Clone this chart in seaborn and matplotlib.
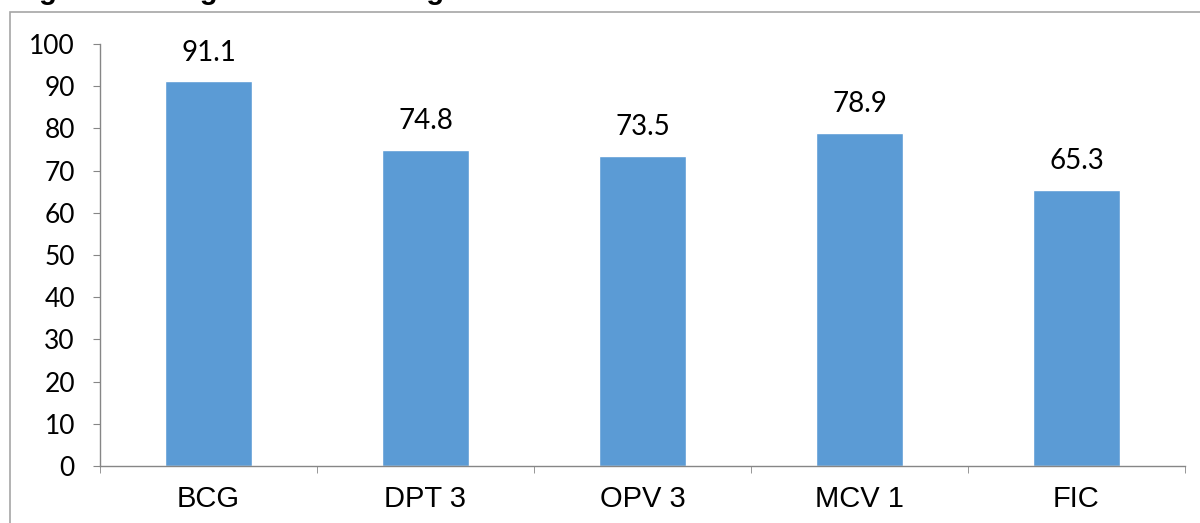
import matplotlib
matplotlib.use('Agg')
import matplotlib.pyplot as plt
import seaborn as sns
import pandas as pd
from matplotlib.patches import Rectangle

# vaccine coverage (%)
antigens = ['BCG', 'DPT 3', 'OPV 3', 'MCV 1', 'FIC']
coverage = [91.1, 74.8, 73.5, 78.9, 65.3]

sns.set_style('white')
plt.rcParams['font.family'] = ['Liberation Sans', 'DejaVu Sans']
plt.rcParams['text.color'] = 'black'
plt.rcParams['xtick.color'] = 'black'
plt.rcParams['ytick.color'] = 'black'

df = pd.DataFrame({'antigen': antigens, 'coverage': coverage})

fig = plt.figure(figsize=(12, 5.23), dpi=100)
ax = fig.add_axes([0.0833, 0.109, 0.9042, 0.807])

sns.barplot(data=df, x='antigen', y='coverage', color='#5B9BD5',
            saturation=1, width=0.4, ax=ax)

for i, v in enumerate(coverage):
    ax.annotate(f'{v}', (i, v), xytext=(0, 11.5), textcoords='offset points',
                ha='center', va='bottom', fontsize=20, family='Lato')

ax.set_ylim(0, 100)
ax.set_xlim(-0.5, len(antigens) - 0.5)
ax.set_yticks(range(0, 101, 10))
ax.set_xlabel('')
ax.set_ylabel('')
ax.tick_params(axis='y', labelsize=19, length=5, color='#868686', direction='out', left=True, pad=13)
for lab in ax.get_yticklabels():
    lab.set_family('Lato')
ax.tick_params(axis='x', labelsize=21, length=0, pad=14)
# category boundary ticks
ax.set_xticks([i - 0.5 for i in range(len(antigens) + 1)], minor=True)
ax.tick_params(axis='x', which='minor', length=5, color='#868686', direction='out', bottom=True)

for s in ['top', 'right']:
    ax.spines[s].set_visible(False)
for s in ['left', 'bottom']:
    ax.spines[s].set_color('#868686')
    ax.spines[s].set_linewidth(1)

# outer chart frame
fig.patches.append(Rectangle((10 / 1200, -0.05), 1.2, 1 - 12 / 523 + 0.05,
                             transform=fig.transFigure, fill=False,
                             edgecolor='#A6A6A6', linewidth=1.2))

# caption, cut off at the top of the picture as in the source
fig.text(13 / 1200, 1.001, 'Figure 3: Antigen-wise coverage', fontsize=21,
         fontweight='bold', va='baseline', ha='left')

fig.savefig('out.png', dpi=100)
